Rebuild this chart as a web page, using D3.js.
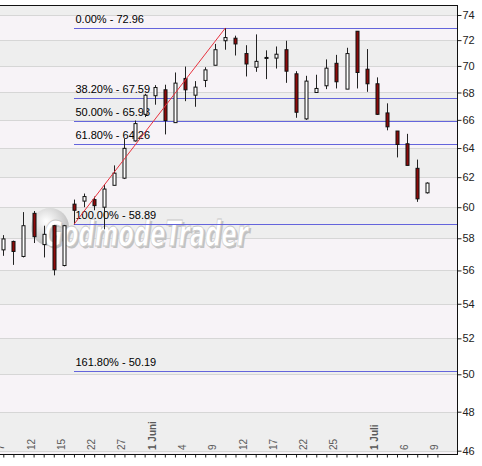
<!DOCTYPE html>
<html>
<head>
<meta charset="utf-8">
<script src="https://cdn.jsdelivr.net/npm/d3@7"></script>
<style>
  body { margin: 0; background: #fff; }
  svg { display: block; }
</style>
</head>
<body>
<div id="chart"></div>
<script>
// daily candles, index 0 = 7 Mai
const opens  = [57.27, 57.8, 56.86, 59.6, 57.6, 58.8, 56.3, 60.2, 60.4, 60.5, 60.0, 61.45, 61.93, 64.5, 66.4, 67.76, 68.2, 65.8, 69.05, 67.8, 68.9, 70.05, 71.95, 72.15, 70.95, 69.9, 70.6, 70.6, 71.25, 69.4, 66.07, 68.0, 68.5, 70.2, 68.25, 72.7, 69.75, 68.65, 66.5, 65.2, 64.3, 62.6, 60.95];
const highs  = [58.2, 57.85, 59.68, 59.75, 58.8, 58.85, 58.85, 60.5, 60.9, 60.7, 61.5, 62.8, 64.66, 65.95, 67.9, 68.55, 68.58, 69.5, 69.95, 68.85, 69.9, 71.7, 72.96, 72.35, 71.6, 72.45, 71.2, 71.5, 71.95, 69.6, 69.25, 69.33, 70.5, 70.85, 71.4, 72.7, 71.3, 69.13, 67.2, 65.2, 65.0, 63.2, 61.65];
const lows   = [56.9, 56.34, 56.8, 57.7, 56.8, 55.7, 56.25, 58.89, 60.0, 59.8, 58.57, 61.45, 61.87, 64.45, 66.2, 67.1, 64.96, 65.8, 67.36, 66.95, 68.4, 70.05, 71.25, 70.8, 69.2, 69.55, 69.0, 69.8, 68.72, 66.15, 66.0, 68.0, 68.25, 68.3, 68.25, 68.3, 68.05, 66.35, 65.25, 63.35, 62.8, 60.35, 60.9];
const closes = [57.96, 57.17, 58.8, 58.1, 58.25, 56.04, 58.8, 59.8, 60.7, 60.1, 61.2, 62.27, 63.98, 65.73, 67.8, 68.37, 65.95, 68.7, 68.2, 68.4, 69.7, 71.25, 72.2, 71.7, 70.15, 70.35, 70.65, 70.9, 69.6, 66.55, 68.85, 68.3, 69.83, 68.8, 70.95, 69.5, 68.65, 66.4, 65.5, 64.25, 62.8, 60.55, 61.6];

const dateLabels = ["7", "12", "15", "22", "27", "1 Juni", "4", "9", "12", "17", "22", "25", "1 Juli", "6", "9"];
const dateIndex  = [0, 3, 6, 9, 12, 15, 18, 21, 24, 27, 30, 33, 37, 40, 43];
const boldLabels = ["1 Juni", "1 Juli"];

const yTicks = [46, 48, 50, 52, 54, 56, 58, 60, 62, 64, 66, 68, 70, 72, 74];

const fibPercent = ["0.00%", "38.20%", "50.00%", "61.80%", "100.00%", "161.80%"];
const fibValues  = [72.96, 67.59, 65.93, 64.26, 58.89, 50.19];
const fibStart = 7;   // low of the swing
const fibEnd = 22;    // high of the swing

const width = 482, height = 466;
const plot = {left: 0, right: 457, top: 5, bottom: 454};

const svg = d3.select("#chart").append("svg")
    .attr("width", width)
    .attr("height", height);

const x = d3.scaleLinear().domain([0, 42]).range([3.3, 427.3]);
const y = d3.scaleLog().domain([46, 74]).range([450.7, 15]);

// alternating bands
const edges = [plot.bottom].concat(yTicks.map(d => Math.round(y(d))), [plot.top]);
const bands = d3.range(edges.length - 1).map(i => ({y0: edges[i], y1: edges[i + 1], odd: i % 2 === 1}));
svg.append("g").selectAll("rect")
    .data(bands)
    .enter().append("rect")
    .attr("x", plot.left)
    .attr("width", plot.right - plot.left)
    .attr("y", d => d.y1)
    .attr("height", d => d.y0 - d.y1)
    .attr("fill", d => d.odd ? "#eeeeee" : "#f7f3f7");

svg.append("g").selectAll("rect")
    .data(yTicks)
    .enter().append("rect")
    .attr("x", plot.left).attr("width", plot.right - plot.left)
    .attr("y", d => Math.round(y(d)))
    .attr("height", 1)
    .attr("fill", "#d6d6d6");

// watermark
const defs = svg.append("defs");
const grad = defs.append("radialGradient").attr("id", "wm").attr("cx", "40%").attr("cy", "35%").attr("r", "65%");
grad.append("stop").attr("offset", "0%").attr("stop-color", "#ffffff");
grad.append("stop").attr("offset", "100%").attr("stop-color", "#bdbdbd");
const wm = svg.append("g");
wm.append("circle").attr("cx", 50).attr("cy", 227).attr("r", 19).attr("fill", "url(#wm)");
wm.append("text")
    .attr("x", 44).attr("y", 246)
    .attr("textLength", 204).attr("lengthAdjust", "spacingAndGlyphs")
    .style("font-family", "DejaVu Sans").style("font-weight", "bold").style("font-style", "italic")
    .style("font-size", "36px")
    .attr("fill", "#c2c2c2")
    .text("GodmodeTrader")
    .attr("transform", "translate(2,2)");
wm.append("text")
    .attr("x", 44).attr("y", 246)
    .attr("textLength", 204).attr("lengthAdjust", "spacingAndGlyphs")
    .style("font-family", "DejaVu Sans").style("font-weight", "bold").style("font-style", "italic")
    .style("font-size", "36px")
    .attr("fill", "#ffffff")
    .attr("stroke", "#c8c8c8").attr("stroke-width", 0.8)
    .text("GodmodeTrader");

// fibonacci levels
const fib = svg.append("g");
fib.selectAll("rect")
    .data(fibValues)
    .enter().append("rect")
    .attr("x", Math.round(x(fibStart)))
    .attr("width", plot.right - Math.round(x(fibStart)))
    .attr("y", d => Math.round(y(d) - 0.3))
    .attr("height", 1)
    .attr("fill", "#6464dc");
fib.selectAll("text")
    .data(fibValues)
    .enter().append("text")
    .attr("x", x(fibStart) + 1.5)
    .attr("y", d => y(d) - 5)
    .style("font-family", "Liberation Sans, Arial, sans-serif")
    .style("font-size", "11px")
    .attr("fill", "#000")
    .text((d, i) => fibPercent[i] + " - " + d.toFixed(2));

// candles
const candles = svg.append("g");
const idx = d3.range(opens.length);
candles.selectAll(".wick")
    .data(idx)
    .enter().append("line")
    .attr("class", "wick")
    .attr("x1", i => Math.round(x(i)) + 0.5)
    .attr("x2", i => Math.round(x(i)) + 0.5)
    .attr("y1", i => y(highs[i]))
    .attr("y2", i => y(lows[i]))
    .attr("stroke", "#222");
candles.selectAll(".body")
    .data(idx)
    .enter().append("rect")
    .attr("class", "body")
    .attr("x", i => Math.round(x(i)) - 1)
    .attr("width", 3)
    .attr("y", i => y(Math.max(opens[i], closes[i])))
    .attr("height", i => Math.max(1, y(Math.min(opens[i], closes[i])) - y(Math.max(opens[i], closes[i]))))
    .attr("fill", i => closes[i] >= opens[i] ? "#ffffff" : "#8e0a0a")
    .attr("stroke", "#111")
    .attr("stroke-width", 1);

// swing line
svg.append("line")
    .attr("x1", x(fibStart)).attr("y1", y(lows[fibStart]))
    .attr("x2", x(fibEnd)).attr("y2", y(highs[fibEnd]))
    .attr("stroke", "#e8323e")
    .attr("stroke-width", 1);

// axes
const yAxis = d3.axisRight(y).tickValues(yTicks).tickSize(4).tickFormat(d3.format("d"));
const gy = svg.append("g")
    .attr("transform", "translate(" + (plot.right + 0.5) + ",0)")
    .call(yAxis);
gy.select(".domain").remove();
gy.selectAll("text")
    .attr("x", 5)
    .style("font-family", "Liberation Sans, Arial, sans-serif")
    .style("font-size", "11px")
    .attr("fill", "#222");
gy.selectAll("line").attr("stroke", "#222");

const xAxis = d3.axisBottom(x).tickValues(d3.range(0, 44)).tickSize(3).tickFormat("");
const gx = svg.append("g")
    .attr("transform", "translate(0," + (plot.bottom + 0.5) + ")")
    .call(xAxis);
gx.select(".domain").remove();
gx.selectAll("line").attr("stroke", "#222");

svg.append("g").selectAll("text")
    .data(dateLabels)
    .enter().append("text")
    .attr("transform", (d, i) => "translate(" + (x(dateIndex[i]) + 1) + ",450) rotate(-90)")
    .attr("text-anchor", "start")
    .style("font-family", "Liberation Sans, Arial, sans-serif")
    .style("font-size", "10px")
    .style("font-weight", d => boldLabels.includes(d) ? "bold" : "normal")
    .attr("fill", "#5a5a5a")
    .text(d => d);

// frame
const frame = svg.append("g").attr("stroke", "#111").attr("fill", "none");
frame.append("line").attr("x1", 0).attr("x2", plot.right + 0.5).attr("y1", plot.top + 0.5).attr("y2", plot.top + 0.5);
frame.append("line").attr("x1", plot.right + 0.5).attr("x2", plot.right + 0.5).attr("y1", plot.top).attr("y2", plot.bottom + 1);
frame.append("line").attr("x1", 0).attr("x2", plot.right + 0.5).attr("y1", plot.bottom + 0.5).attr("y2", plot.bottom + 0.5);
</script>
</body>
</html>
